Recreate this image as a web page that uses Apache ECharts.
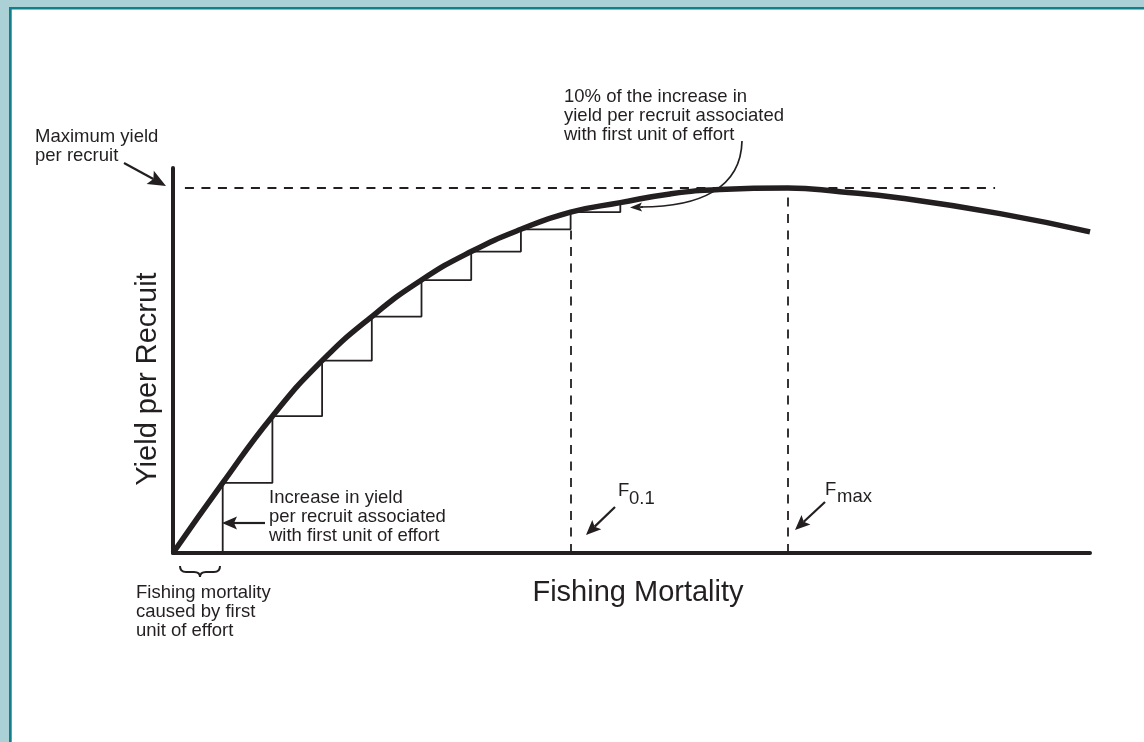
<!DOCTYPE html>
<html>
<head>
<meta charset="utf-8">
<script src="https://cdn.jsdelivr.net/npm/echarts@6/dist/echarts.min.js"></script>
<style>
  html, body { margin: 0; padding: 0; background: #fff; }
  #chart { width: 1144px; height: 742px; }
</style>
</head>
<body>
<div id="chart"></div>
<script>
// units of fishing effort (x) and yield per recruit at each unit (y, max = 100)
const stepX = [0, 1, 2, 3, 4, 5, 6, 7, 8, 9];
const stepYield = [0, 19.2, 37.5, 52.7, 64.8, 74.8, 82.6, 88.7, 93.4, 96.0];
// rest of the yield curve beyond the staircase
const tailX = [10, 11, 12.37, 13.42, 14.63, 16.64, 18.45];
const tailYield = [98.4, 99.6, 100, 99.0, 97.3, 93.0, 88.0];
const maxYield = 100;
const fMax = 12.37;
const f01 = 8;
const maxLineEnd = 16.54;

const ink = '#231f20';
const font = '"Liberation Sans", Arial, Helvetica, sans-serif';

let curveData = stepX.map(function (x, i) { return [x, stepYield[i]]; })
  .concat(tailX.map(function (x, i) { return [x, tailYield[i]]; }));

// staircase: horizontal then vertical at each unit of effort
let stairData = [[stepX[1], 0]];
for (let i = 1; i < stepX.length; i++) {
  stairData.push([stepX[i], stepYield[i]]);
}

function arrow(x1, y1, x2, y2, len, wid, lw) {
  const a = Math.atan2(y2 - y1, x2 - x1);
  const c = Math.cos(a), s = Math.sin(a);
  const bx = x2 - len * c, by = y2 - len * s;
  const nx = -s * wid / 2, ny = c * wid / 2;
  const ix = x2 - len * 0.8 * c, iy = y2 - len * 0.8 * s;
  return [
    { type: 'line', z: 50, shape: { x1: x1, y1: y1, x2: ix, y2: iy }, style: { stroke: ink, lineWidth: lw } },
    { type: 'polygon', z: 50, shape: { points: [[x2, y2], [bx + nx, by + ny], [ix, iy], [bx - nx, by - ny]] }, style: { fill: ink } }
  ];
}

function label(x, y, text, size) {
  return {
    type: 'text', x: x, y: y, z: 50,
    style: {
      text: text, fill: ink, font: size + 'px ' + font,
      lineHeight: 19, textAlign: 'left', textVerticalAlign: 'top', align: 'left', verticalAlign: 'top'
    }
  };
}

function curl(x1, y1, cx, cy, x2, y2) {
  return { type: 'bezierCurve', z: 50, shape: { x1: x1, y1: y1, cpx1: cx, cpy1: cy, x2: x2, y2: y2 },
    style: { stroke: ink, lineWidth: 2, fill: null } };
}

let graphics = [
  // frame
  { type: 'rect', shape: { x: 0, y: 0, width: 1144, height: 7 }, style: { fill: '#abd1d7' } },
  { type: 'rect', shape: { x: 0, y: 0, width: 9, height: 742 }, style: { fill: '#abd1d7' } },
  { type: 'rect', shape: { x: 9, y: 7, width: 1135, height: 2.5 }, style: { fill: '#11808a' } },
  { type: 'rect', shape: { x: 9, y: 7, width: 2.7, height: 735 }, style: { fill: '#11808a' } },

  label(35, 127, 'Maximum yield\nper recruit', 18.5),
  label(564, 87, '10% of the increase in\nyield per recruit associated\nwith first unit of effort', 18.5),
  label(269, 488, 'Increase in yield\nper recruit associated\nwith first unit of effort', 18.5),
  label(136, 583, 'Fishing mortality\ncaused by first\nunit of effort', 18.5),
  label(618, 481, 'F', 18.5),
  label(629, 489, '0.1', 18.5),
  label(825, 480, 'F', 18.5),
  label(837, 487, 'max', 18.5),
  {
    type: 'text', x: 638, y: 593, z: 50,
    style: { text: 'Fishing Mortality', fill: ink, font: '29px ' + font,
      textAlign: 'center', textVerticalAlign: 'middle', align: 'center', verticalAlign: 'middle' }
  },
  {
    type: 'text', x: 148, y: 379, z: 50, rotation: Math.PI / 2,
    style: { text: 'Yield per Recruit', fill: ink, font: '29px ' + font,
      textAlign: 'center', textVerticalAlign: 'middle', align: 'center', verticalAlign: 'middle' }
  },
  // curved arrow from the 10% note
  { type: 'bezierCurve', z: 50, shape: { x1: 742, y1: 141, cpx1: 741, cpy1: 188, cpx2: 700, cpy2: 207, x2: 641, y2: 207 },
    style: { stroke: ink, lineWidth: 1.7, fill: null } },
  // brace under first unit of effort
  curl(180, 566, 180, 572, 186, 572),
  { type: 'line', z: 50, shape: { x1: 186, y1: 572, x2: 194, y2: 572 }, style: { stroke: ink, lineWidth: 2 } },
  curl(194, 572, 200, 572, 200, 577),
  curl(200, 577, 200, 572, 206, 572),
  { type: 'line', z: 50, shape: { x1: 206, y1: 572, x2: 214, y2: 572 }, style: { stroke: ink, lineWidth: 2 } },
  curl(214, 572, 220, 572, 220, 566)
];
graphics = graphics
  .concat(arrow(124, 163, 166, 186, 18, 15, 2.2))
  .concat(arrow(265, 523, 222, 523, 15, 13, 2.2))
  .concat(arrow(615, 507, 586, 535, 15, 13, 2.2))
  .concat(arrow(825, 502, 795, 530, 15, 13, 2.2))
  .concat(arrow(643, 207, 630, 207.5, 12, 9, 1.7));

let myChart = echarts.init(document.getElementById('chart'));
let option = {
  animation: false,
  backgroundColor: '#fff',
  grid: { left: 173, right: 54, top: 168, bottom: 189 },
  xAxis: {
    type: 'value', min: 0, max: 18.45,
    axisLine: { show: true, onZero: false, lineStyle: { color: ink, width: 4 } },
    axisTick: { show: false }, axisLabel: { show: false }, splitLine: { show: false }
  },
  yAxis: {
    type: 'value', min: 0, max: 105.5,
    axisLine: { show: true, onZero: false, lineStyle: { color: ink, width: 4 } },
    axisTick: { show: false }, axisLabel: { show: false }, splitLine: { show: false }
  },
  series: [
    {
      name: 'steps', type: 'line', step: 'end', data: stairData,
      showSymbol: false, silent: true,
      lineStyle: { color: ink, width: 1.8 },
      markLine: {
        silent: true, symbol: 'none', label: { show: false },
        lineStyle: { color: ink, width: 1.8, type: [9, 7.5] },
        emphasis: { disabled: true },
        data: [
          [{ coord: [0.24, maxYield] }, { coord: [maxLineEnd, maxYield] }],
          [{ coord: [f01, 0] }, { coord: [f01, stepYield[7]] }],
          [{ coord: [fMax, 0] }, { coord: [fMax, maxYield] }]
        ]
      }
    },
    {
      name: 'yield', type: 'line', data: curveData, smooth: 0.5,
      showSymbol: false, silent: true, z: 5,
      lineStyle: { color: ink, width: 5.5 }
    }
  ],
  graphic: graphics
};
myChart.setOption(option);
</script>
</body>
</html>
